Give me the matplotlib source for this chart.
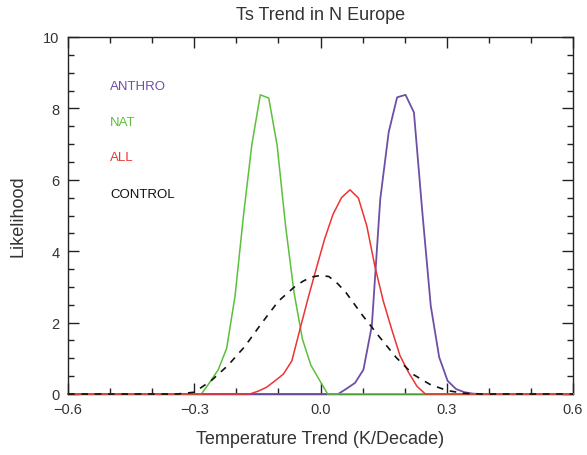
import matplotlib
matplotlib.use("Agg")
import matplotlib.pyplot as plt
from matplotlib.ticker import MultipleLocator

# ---- data ----
nat_x = [-0.6, -0.283, -0.263, -0.243, -0.223, -0.203, -0.183, -0.163, -0.143, -0.123,
         -0.103, -0.083, -0.063, -0.043, -0.023, -0.003, 0.017, 0.6]
nat_y = [0, 0, 0.33, 0.68, 1.28, 2.75, 5.0, 7.0, 8.38, 8.29,
         6.96, 4.71, 2.85, 1.54, 0.81, 0.4, 0, 0]

all_x = [-0.6, -0.168, -0.148, -0.128, -0.108, -0.088, -0.068, -0.048, -0.028, -0.008,
         0.010, 0.030, 0.050, 0.070, 0.090, 0.110, 0.129, 0.149, 0.169, 0.189,
         0.209, 0.229, 0.249, 0.6]
all_y = [0, 0, 0.08, 0.19, 0.37, 0.56, 0.93, 1.85, 2.75, 3.6,
         4.35, 5.04, 5.5, 5.72, 5.49, 4.71, 3.59, 2.61, 1.82, 1.07,
         0.61, 0.22, 0, 0]

anthro_x = [-0.6, 0.042, 0.062, 0.082, 0.102, 0.122, 0.142, 0.162, 0.182, 0.202,
            0.222, 0.242, 0.262, 0.282, 0.302, 0.322, 0.342, 0.362, 0.382, 0.6]
anthro_y = [0, 0, 0.15, 0.31, 0.68, 1.91, 5.46, 7.33, 8.31, 8.38,
            7.89, 5.09, 2.47, 1.03, 0.37, 0.14, 0.05, 0.01, 0, 0]

control_x = [-0.6, -0.34, -0.30, -0.26, -0.22, -0.18, -0.14, -0.10, -0.06, -0.04, -0.02,
             0.00, 0.02, 0.04, 0.06, 0.10, 0.14, 0.18, 0.22, 0.26, 0.30, 0.34, 0.38, 0.6]
control_y = [0, 0, 0.05, 0.37, 0.80, 1.33, 1.98, 2.60, 3.02, 3.17, 3.28,
             3.32, 3.29, 3.10, 2.85, 2.20, 1.60, 1.02, 0.55, 0.27, 0.10, 0.02, 0, 0]

labels = ["ANTHRO", "NAT", "ALL", "CONTROL"]
title = "Ts Trend in N Europe"
xlabel = "Temperature Trend (K/Decade)"
ylabel = "Likelihood"

# ---- styles ----
c_anthro = "#6f4ea6"
c_nat = "#5cc03c"
c_all = "#ee3333"
c_ctrl = "#111111"
c_text = "#333333"

plt.rcParams['font.family'] = ['Liberation Sans', 'DejaVu Sans']

fig = plt.figure(figsize=(5.87, 4.56), dpi=100)
ax = fig.add_axes([68/587, 61/456, 505/587, 357/456])

ax.plot(anthro_x, anthro_y, color=c_anthro, lw=1.3, clip_on=False, zorder=3)
ax.plot(nat_x, nat_y, color=c_nat, lw=1.1, clip_on=False, zorder=4)
ax.plot(all_x, all_y, color=c_all, lw=1.1, clip_on=False, zorder=5)
ax.plot(control_x, control_y, color=c_ctrl, lw=1.2, ls=(0, (4, 4)), clip_on=False, zorder=6)

ax.set_xlim(-0.6, 0.6)
ax.set_ylim(0, 10)
ax.xaxis.set_major_locator(MultipleLocator(0.3))
ax.xaxis.set_minor_locator(MultipleLocator(0.1))
ax.yaxis.set_major_locator(MultipleLocator(2))
ax.yaxis.set_minor_locator(MultipleLocator(0.5))
ax.set_xticks([-0.6, -0.3, 0.0, 0.3, 0.6])
ax.set_xticklabels(["\u22120.6", "\u22120.3", "0.0", "0.3", "0.6"])
ax.tick_params(which='both', direction='in', top=True, right=True, labelsize=10.5,
               width=1.0, colors='#222222', labelcolor=c_text)
ax.tick_params(which='major', length=8, pad=6)
ax.tick_params(which='minor', length=4)
for s in ax.spines.values():
    s.set_linewidth(1.0)
    s.set_color('#222222')

ax.set_title(title, fontsize=13, color=c_text, pad=13)
ax.set_xlabel(xlabel, fontsize=13, color=c_text, labelpad=10)
ax.set_ylabel(ylabel, fontsize=13, color=c_text, labelpad=12)

colors = [c_anthro, c_nat, c_all, c_ctrl]
ypos = [8.63, 7.63, 6.63, 5.6]
for lab, col, yy in zip(labels, colors, ypos):
    ax.text(-0.50, yy, lab, color=col, fontsize=9.5, ha='left', va='center')

fig.savefig("out.png", dpi=100)
